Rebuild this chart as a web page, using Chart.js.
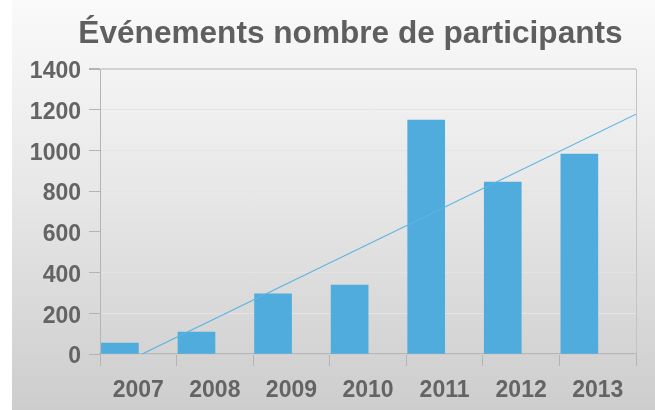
<!DOCTYPE html>
<html>
<head>
<meta charset="utf-8">
<script src="https://cdn.jsdelivr.net/npm/chart.js@4.4.0/dist/chart.umd.min.js"></script>
<style>
  html, body { margin: 0; padding: 0; background: #fff; overflow: hidden; }
  #frame {
    position: absolute; left: 12px; top: 0; width: 643px; height: 410px;
    background: linear-gradient(#fafafa, #e8e8e8 45%, #cdcdcd);
  }
</style>
</head>
<body>
<div id="frame"><canvas id="chart" width="643" height="410"></canvas></div>
<script>
'use strict';

const chartTitle = 'Événements nombre de participants';
const years = ['2007', '2008', '2009', '2010', '2011', '2012', '2013'];
const participants = [54, 108, 295, 339, 1149, 845, 982];
// trend line end points (x in year slots, 0 = 2007)
const trendX = [0.05, 6.5];
const trendY = [0, 1178];
const yTicks = [0, 200, 400, 600, 800, 1000, 1200, 1400];

const tickFont = { family: '"Liberation Sans", Arial, sans-serif', size: 23, weight: 'bold' };

// title drawn by hand, it sits a bit right of the canvas centre
const titlePlugin = {
    id: 'sheetTitle',
    afterDraw(chart) {
        const ctx = chart.ctx;
        ctx.save();
        ctx.font = 'bold 31.6px "Liberation Sans", Arial, sans-serif';
        ctx.fillStyle = '#5f5f5f';
        ctx.textAlign = 'center';
        ctx.textBaseline = 'alphabetic';
        ctx.fillText(chartTitle, 338.5, 43);
        ctx.restore();
    }
};

const ctx = document.getElementById('chart').getContext('2d');
const chart = new Chart(ctx, {
    type: 'bar',
    data: {
        labels: years,
        datasets: [{
            label: 'Participants',
            // bars sit on the left half of each year, like a 2-series excel column chart
            xAxisID: 'xBars',
            data: participants.map((v, i) => ({ x: i, y: v })),
            backgroundColor: '#4facdc',
            borderWidth: 0,
            grouped: false,
            barPercentage: 1,
            categoryPercentage: 1,
            maxBarThickness: 37,
            order: 1
        }, {
            type: 'line',
            label: 'Tendance',
            xAxisID: 'xTrend',
            data: trendX.map((x, i) => ({ x: x, y: trendY[i] })),
            borderColor: '#5cb4e2',
            borderWidth: 1.2,
            pointRadius: 0,
            fill: false,
            order: 0
        }]
    },
    options: {
        responsive: false,
        animation: false,
        layout: { padding: { left: 0, right: 19, top: 69, bottom: 0 } },
        plugins: {
            legend: { display: false },
            tooltip: { enabled: false },
            title: { display: false }
        },
        scales: {
            x: {
                type: 'category',
                offset: true,
                grid: {
                    offset: true,
                    // only the closing line on the right is drawn across the plot
                    color: (c) => c.type === 'tick' ? 'rgba(0,0,0,0)' : '#c4c4c4',
                    tickColor: '#b4b4b4',
                    tickLength: 12
                },
                border: { color: '#b8b8b8', width: 1.5 },
                ticks: { color: '#646464', font: tickFont, padding: 11, maxRotation: 0 },
                afterFit: (scale) => { scale.height = 56; }
            },
            xBars: {
                type: 'linear',
                display: false,
                offset: false,
                grid: { offset: false },
                min: -0.26,
                max: 6.74
            },
            xTrend: {
                type: 'linear',
                display: false,
                offset: false,
                grid: { offset: false },
                min: -0.5,
                max: 6.5
            },
            y: {
                min: 0,
                max: 1400,
                afterBuildTicks: (scale) => { scale.ticks = yTicks.map((v) => ({ value: v })); },
                grid: {
                    color: (c) => c.tick && c.tick.value === 1400 ? '#d2d2d2' : '#e4e4e4',
                    lineWidth: (c) => c.tick && c.tick.value === 1400 ? 2 : 1,
                    tickColor: '#b4b4b4',
                    tickLength: 11
                },
                border: { color: '#b4b4b4' },
                ticks: {
                    color: '#646464',
                    font: tickFont,
                    padding: 8,
                    labelOffset: 3,
                    callback: (value) => String(value)
                },
                afterFit: (scale) => { scale.width = 88; }
            }
        }
    },
    plugins: [titlePlugin]
});
</script>
</body>
</html>
